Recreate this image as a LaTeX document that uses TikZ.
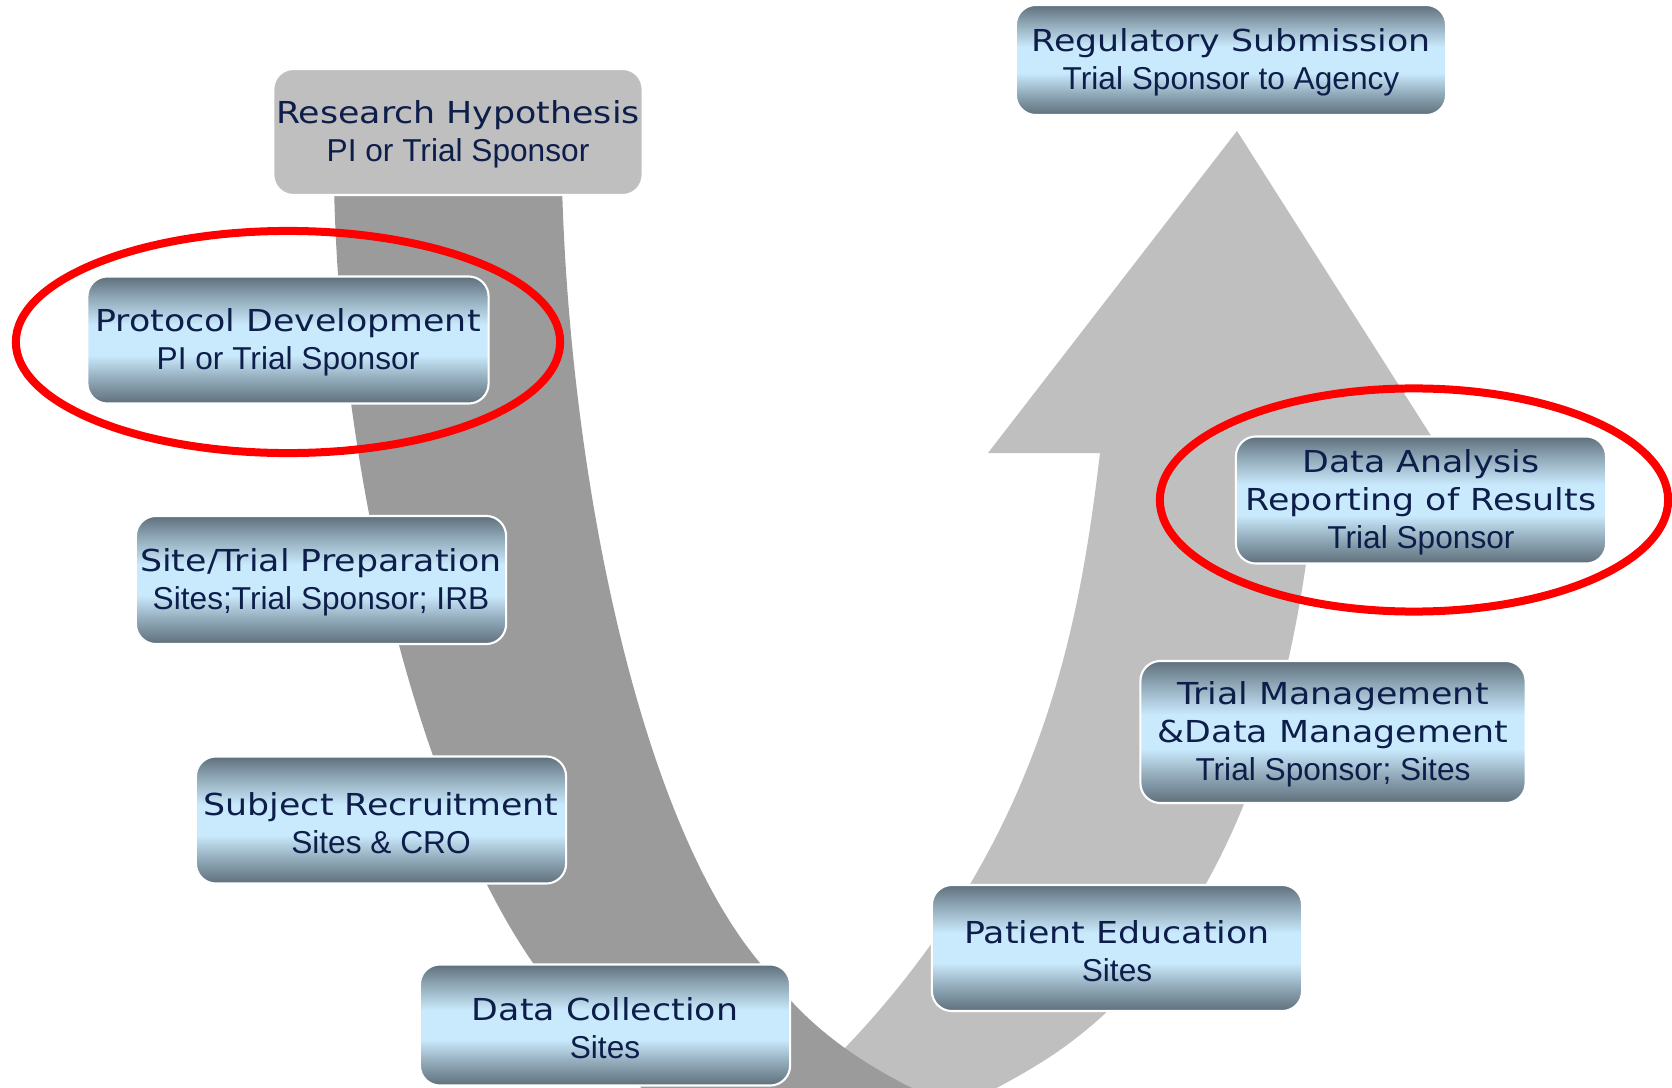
\documentclass[tikz,border=0pt]{standalone}
\usepackage{fontspec}
\setsansfont{Liberation Sans}
\newfontfamily\titrefont[FakeStretch=1.15]{DejaVu Sans}
\newcommand\sous{\sffamily\fontsize{9}{10.8}\selectfont}
\newcommand\haut{\rule{0pt}{8.1pt}}
\definecolor{encre}{HTML}{0E1E4B}
\definecolor{ardoise}{HTML}{5E6F7B}
\definecolor{ciel}{HTML}{C9E9FC}
\colorlet{miardoise}{ardoise!55!ciel}
\definecolor{fonce}{HTML}{9B9B9B}
\definecolor{clair}{HTML}{BFBFBF}
\pgfdeclareverticalshading{degrade}{100bp}{%
  color(0bp)=(ardoise); color(25bp)=(ardoise); color(34bp)=(miardoise);%
  color(44bp)=(ciel); color(56bp)=(ciel); color(67bp)=(miardoise);%
  color(75bp)=(ardoise); color(100bp)=(ardoise)}

\begin{document}
\begin{tikzpicture}[x=0.01cm,y=-0.01cm,%
  cadre/.style={rectangle,rounded corners=0.2cm,draw=white,line width=0.6pt,%
                inner sep=0pt,align=center,text=encre,%
                font=\titrefont\fontsize{8.6}{10.8}\selectfont,%
                minimum width=3.7cm,minimum height=1.27cm},%
  etape/.style={cadre,shading=degrade},%
  entoure/.style={draw=red,line width=0.08cm}]
% le cadre
\useasboundingbox (0,0) rectangle (1672,1088);
\clip (0,0) rectangle (1672,1088);
% la fleche claire qui remonte
\fill[clair] (900,1130) .. controls (960,1110) and (1026,1074) .. (1060,1050)
  .. controls (1230,930) and (1300,700) .. (1318,452)
  -- (1442,453) -- (1237,131) -- (988,453) -- (1100,453)
  .. controls (1080,620) and (1045,840) .. (843,1050)
  .. controls (810,1085) and (780,1100) .. (740,1130) -- cycle;
% la bande foncee qui descend
\fill[fonce] (334,185) .. controls (340,480) and (420,800) .. (533,963)
  .. controls (580,1030) and (620,1080) .. (700,1130)
  -- (980,1130) -- (960,1110)
  .. controls (840,1060) and (795,1010) .. (760,963)
  .. controls (640,820) and (570,480) .. (562,185) -- cycle;
% les etapes
\node[cadre,fill=clair,minimum width=3.69cm,minimum height=1.26cm] (RH) at (458,132)
  {\haut Research Hypothesis\\\sous PI or Trial Sponsor};
\node[etape,minimum width=4.01cm] (PD) at (288,340)
  {\haut Protocol Development\\\sous PI or Trial Sponsor};
\node[etape,minimum height=1.28cm] (SP) at (321,580)
  {\haut Site/Trial Preparation\\\sous Sites;Trial Sponsor; IRB};
\node[etape] (SR) at (381,820)
  {\haut Subject Recruitment\\\sous Sites \& CRO};
\node[etape,minimum height=1.21cm] (DC) at (605,1025)
  {\haut Data Collection\\\sous Sites};
\node[etape,minimum height=1.26cm] (PE) at (1117,948)
  {\haut Patient Education\\\sous Sites};
\node[etape,minimum width=3.85cm,minimum height=1.42cm] (TM) at (1333,732)
  {\haut Trial Management\\\&Data Management\\\sous Trial Sponsor; Sites};
\node[etape] (DA) at (1421,500)
  {\haut Data Analysis\\Reporting of Results\\\sous Trial Sponsor};
\node[etape,minimum width=4.3cm,minimum height=1.1cm] (RS) at (1231,60)
  {\haut Regulatory Submission\\\sous Trial Sponsor to Agency};
% les ellipses rouges
\draw[entoure] ([yshift=-0.02cm]PD.center) ellipse [x radius=2.72cm,y radius=1.11cm];
\draw[entoure] ([xshift=-0.07cm]DA.center) ellipse [x radius=2.54cm,y radius=1.115cm];
\end{tikzpicture}
\end{document}
